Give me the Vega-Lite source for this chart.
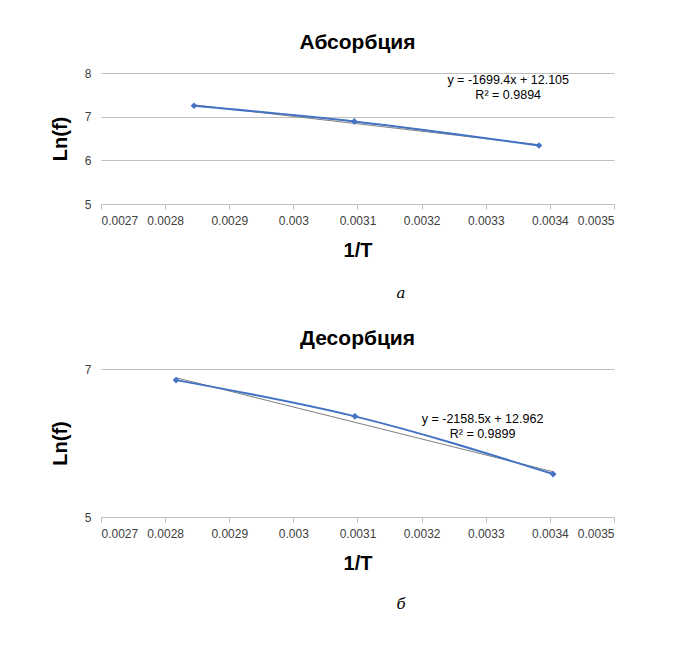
{
  "$schema": "https://vega.github.io/schema/vega-lite/v6.json",
  "padding": {"left": 50, "top": 32, "right": 10, "bottom": 5},
  "spacing": 8,
  "config": {
    "view": {"stroke": null},
    "background": "white",
    "font": "Liberation Sans",
    "title": {"fontSize": 21, "fontWeight": "bold", "color": "#000", "offset": 14},
    "axis": {"labelFontSize": 12, "labelColor": "#404040", "titleFontSize": 20, "titleFontWeight": "bold", "titleColor": "#000", "gridColor": "#bfbfbf", "domainColor": "#bfbfbf", "tickColor": "#bfbfbf", "labelOverlap": false}
  },
  "datasets": {
    "abs": [
      {"x": 0.002845, "y": 7.25},
      {"x": 0.003095, "y": 6.89},
      {"x": 0.003383, "y": 6.34}
    ],
    "absTrend": [
      {"x": 0.002845, "y": 7.27},
      {"x": 0.003383, "y": 6.356}
    ],
    "des": [
      {"x": 0.002817, "y": 6.85},
      {"x": 0.003096, "y": 6.36},
      {"x": 0.003405, "y": 5.58}
    ],
    "desTrend": [
      {"x": 0.002817, "y": 6.882},
      {"x": 0.003405, "y": 5.612}
    ]
  },
  "vconcat": [
    {
      "title": "Абсорбция",
      "width": 513,
      "height": 131,
      "encoding": {
        "x": {"field": "x", "type": "quantitative", "title": "1/T", "scale": {"domain": [0.0027, 0.0035], "nice": false}, "axis": {"values": [0.0027, 0.0028, 0.0029, 0.003, 0.0031, 0.0032, 0.0033, 0.0034, 0.0035], "grid": false, "labelExpr": "format(datum.value, '.2~r')", "labelPadding": 6, "titlePadding": 14}},
        "y": {"field": "y", "type": "quantitative", "title": "Ln(f)", "scale": {"domain": [5, 8], "nice": false}, "axis": {"values": [5, 6, 7, 8], "format": "d", "domain": false, "ticks": false, "labelPadding": 10, "titlePadding": 14}}
      },
      "layer": [
        {"data": {"name": "absTrend"}, "mark": {"type": "line", "color": "#7f7f7f", "strokeWidth": 1}},
        {"data": {"name": "abs"}, "mark": {"type": "line", "color": "#4472c4", "strokeWidth": 2, "interpolate": "monotone"}},
        {"data": {"name": "abs"}, "mark": {"type": "point", "shape": "diamond", "filled": true, "color": "#4472c4", "size": 45, "opacity": 1}},
        {"data": {"values": [{"x": 0.003335, "y": 7.83, "t": "y = -1699.4x + 12.105"}, {"x": 0.003335, "y": 7.5, "t": "R² = 0.9894"}]},
         "mark": {"type": "text", "fontSize": 12.5, "color": "#000"}, "encoding": {"text": {"field": "t"}}}
      ]
    },
    {
      "width": 600, "height": 52,
      "data": {"values": [{"t": "а"}]},
      "mark": {"type": "text", "fontSize": 15, "fontStyle": "italic", "font": "DejaVu Serif", "baseline": "top", "dy": -8},
      "encoding": {"text": {"field": "t"}}
    },
    {
      "title": "Десорбция",
      "width": 513,
      "height": 148,
      "encoding": {
        "x": {"field": "x", "type": "quantitative", "title": "1/T", "scale": {"domain": [0.0027, 0.0035], "nice": false}, "axis": {"values": [0.0027, 0.0028, 0.0029, 0.003, 0.0031, 0.0032, 0.0033, 0.0034, 0.0035], "grid": false, "labelExpr": "format(datum.value, '.2~r')", "labelPadding": 6, "titlePadding": 14}},
        "y": {"field": "y", "type": "quantitative", "title": "Ln(f)", "scale": {"domain": [5, 7], "nice": false}, "axis": {"values": [5, 6, 7], "format": "d", "domain": false, "ticks": false, "labelPadding": 10, "titlePadding": 14}}
      },
      "layer": [
        {"data": {"name": "desTrend"}, "mark": {"type": "line", "color": "#7f7f7f", "strokeWidth": 1}},
        {"data": {"name": "des"}, "mark": {"type": "line", "color": "#4472c4", "strokeWidth": 2, "interpolate": "monotone"}},
        {"data": {"name": "des"}, "mark": {"type": "point", "shape": "diamond", "filled": true, "color": "#4472c4", "size": 45, "opacity": 1}},
        {"data": {"values": [{"x": 0.003295, "y": 6.32, "t": "y = -2158.5x + 12.962"}, {"x": 0.003295, "y": 6.12, "t": "R² = 0.9899"}]},
         "mark": {"type": "text", "fontSize": 12.5, "color": "#000"}, "encoding": {"text": {"field": "t"}}}
      ]
    },
    {
      "width": 600, "height": 40,
      "data": {"values": [{"t": "б"}]},
      "mark": {"type": "text", "fontSize": 15, "fontStyle": "italic", "font": "DejaVu Serif", "baseline": "top", "dy": -4},
      "encoding": {"text": {"field": "t"}}
    }
  ]
}
